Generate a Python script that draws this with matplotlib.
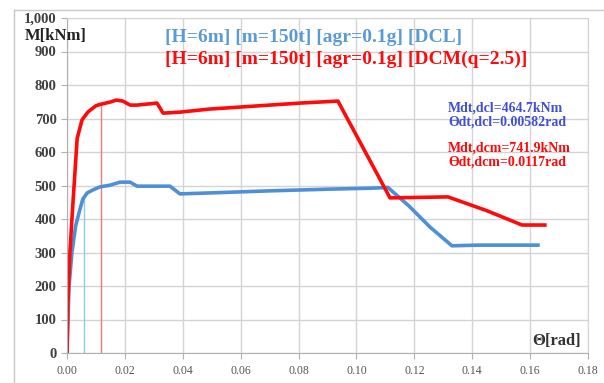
import matplotlib
matplotlib.use("Agg")
import matplotlib.pyplot as plt
from matplotlib.ticker import FuncFormatter, MultipleLocator
from matplotlib.lines import Line2D

# DCL curve (blue)
dcl_theta = [0.0, 0.0007, 0.0017, 0.0030, 0.0045, 0.0055, 0.0070, 0.0090, 0.0114,
             0.0149, 0.0183, 0.0218, 0.0242, 0.0356, 0.0390, 0.0500, 0.0700,
             0.0900, 0.1050, 0.1109, 0.1180, 0.1254, 0.1330, 0.1420, 0.1627]
dcl_m = [0, 200, 300, 380, 430, 460, 478, 487, 496,
         501, 510, 510, 498, 498, 475, 478, 484,
         489, 492, 494, 440, 376, 320, 322, 322]

# DCM curve (red)
dcm_theta = [0.0, 0.0003, 0.0010, 0.0017, 0.0035, 0.0052, 0.0073, 0.0100, 0.0114,
             0.0149, 0.0170, 0.0193, 0.0218, 0.0242, 0.0311, 0.0332, 0.0390,
             0.0490, 0.0805, 0.0936, 0.1116, 0.1316, 0.1450, 0.1572, 0.1651]
dcm_m = [0, 150, 300, 400, 640, 696, 720, 738, 742,
         749, 755, 752, 740, 740, 746, 716, 719,
         728, 746, 752, 463, 466, 425, 382, 382]

dcl_label = "[H=6m] [m=150t] [agr=0.1g] [DCL]"
dcm_label = "[H=6m] [m=150t] [agr=0.1g] [DCM(q=2.5)]"

dcl_mdt, dcl_thdt = 464.7, 0.00582
dcm_mdt, dcm_thdt = 741.9, 0.0117

blue = "#4F8FD6"
red = "#FF0A0A"
serif = "Liberation Serif"

fig = plt.figure(figsize=(6.04, 3.83), dpi=100)
ax = fig.add_axes([67 / 604, 1 - 353 / 383, 521 / 604, 335 / 383])

# outer frame
fig.add_artist(Line2D([14 / 604, 14 / 604], [0, 1 - 10 / 383], color="#C8C8C8", lw=1))
fig.add_artist(Line2D([14 / 604, 1], [1 - 10 / 383, 1 - 10 / 383], color="#C8C8C8", lw=1))

ax.plot([dcl_thdt, dcl_thdt], [0, dcl_mdt], color="#8CCBF0", lw=1)
ax.plot([dcm_thdt, dcm_thdt], [0, dcm_mdt], color="#F07A7A", lw=1)
ax.plot(dcl_theta, dcl_m, color=blue, lw=2.6, solid_joinstyle="round")
ax.plot(dcm_theta, dcm_m, color=red, lw=2.6, solid_joinstyle="round")

ax.set_xlim(0, 0.18)
ax.set_ylim(0, 1000)
ax.xaxis.set_major_locator(MultipleLocator(0.02))
ax.yaxis.set_major_locator(MultipleLocator(100))
ax.xaxis.set_major_formatter(FuncFormatter(lambda v, p: f"{v:.2f}"))
ax.yaxis.set_major_formatter(FuncFormatter(lambda v, p: f"{int(v):,}"))
ax.grid(True, color="#D4D4D4", lw=1)
ax.set_axisbelow(True)
for s in ["top", "right"]:
    ax.spines[s].set_color("#D4D4D4")
for s in ["left", "bottom"]:
    ax.spines[s].set_color("#B0B0B0")
ax.tick_params(axis="both", direction="out", length=4, color="#B0B0B0")
ax.tick_params(axis="x", pad=5)
for lab in ax.get_yticklabels():
    lab.set_fontfamily(serif)
    lab.set_fontsize(10.5)
    lab.set_fontweight("bold")
    lab.set_color("#404040")
for lab in ax.get_xticklabels():
    lab.set_fontfamily(serif)
    lab.set_fontsize(8.5)
    lab.set_color("#555555")

ax.text(-0.0145, 945, "M[kNm]", fontfamily=serif, fontsize=12, fontweight="bold",
        color="#222222", ha="left", va="center")
ax.text(0.1775, 35, "Θ[rad]", fontfamily=serif, fontsize=12, fontweight="bold",
        color="#333333", ha="right", va="center")

ax.text(0.034, 943, dcl_label, fontfamily=serif, fontsize=14, fontweight="bold",
        color="#5B9BD5", ha="left", va="center")
ax.text(0.034, 876, dcm_label, fontfamily=serif, fontsize=14, fontweight="bold",
        color=red, ha="left", va="center")

ax.text(0.1316, 752, f"Mdt,dcl={dcl_mdt}kNm\nƟdt,dcl={dcl_thdt}rad", fontfamily=serif,
        fontsize=10, fontweight="bold", color="#4050D0", ha="left", va="top",
        linespacing=1.1)
ax.text(0.1316, 632, f"Mdt,dcm={dcm_mdt}kNm\nƟdt,dcm={dcm_thdt}rad", fontfamily=serif,
        fontsize=10, fontweight="bold", color=red, ha="left", va="top",
        linespacing=1.1)

fig.savefig("out.png", dpi=100)
